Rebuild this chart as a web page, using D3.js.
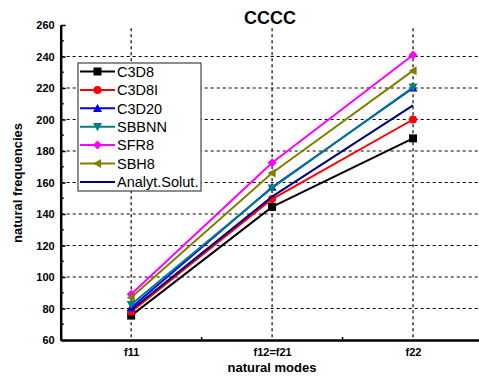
<!DOCTYPE html>
<html>
<head>
<meta charset="utf-8">
<script src="https://cdn.jsdelivr.net/npm/d3@7"></script>
<style>
  body { margin: 0; background: #fff; }
  text { font-family: "Liberation Sans", Arial, sans-serif; }
</style>
</head>
<body>
<div id="viz"></div>
<script>
// data
const modes = ['f11', 'f12=f21', 'f22'];
const seriesNames = ['C3D8', 'C3D8I', 'C3D20', 'SBBNN', 'SFR8', 'SBH8', 'Analyt.Solut.'];
const c3d8 = [75.5, 144.5, 188];
const c3d8i = [78, 149.5, 200];
const c3d20 = [80.5, 157, 220];
const sbbnn = [82.5, 156.5, 220.5];
const sfr8 = [89, 172.5, 241];
const sbh8 = [87, 166, 231];
const analyt = [79, 151, 209];
const yTicks = [60, 80, 100, 120, 140, 160, 180, 200, 220, 240, 260];

function buildChart(containerId) {
    const width = 479;
    const height = 378;

    const margin = { top: 25, bottom: 38, left: 60.7, right: -4.5 };
    const innerWidth = width - margin.left - margin.right;
    const innerHeight = height - margin.top - margin.bottom;

    const svg = d3.select(containerId)
        .append('svg')
        .attr('width', width)
        .attr('height', height);

    const g = svg.append('g')
        .attr('transform', `translate(${margin.left},${margin.top})`);

    const x = d3.scalePoint()
        .domain(modes)
        .range([0, innerWidth])
        .padding(0.5);

    const y = d3.scaleLinear()
        .domain([60, 260])
        .range([innerHeight, 0]);

    // grid
    g.selectAll('.hgrid')
        .data(yTicks.filter(v => v > 60 && v < 260))
        .enter().append('line')
        .attr('x1', 0).attr('x2', innerWidth)
        .attr('y1', d => y(d)).attr('y2', d => y(d))
        .attr('stroke', '#000').attr('stroke-width', 1.2)
        .attr('stroke-dasharray', '3,3');

    g.selectAll('.vgrid')
        .data(modes)
        .enter().append('line')
        .attr('x1', d => x(d)).attr('x2', d => x(d))
        .attr('y1', y(258)).attr('y2', innerHeight)
        .attr('stroke', '#000').attr('stroke-width', 1.2)
        .attr('stroke-dasharray', '3,3');

    // y axis
    const yAxis = d3.axisLeft(y)
        .tickValues(yTicks)
        .tickSizeInner(-5)
        .tickSizeOuter(0)
        .tickPadding(6);
    const ya = g.append('g').attr('class', 'y-axis').call(yAxis);
    ya.select('.domain').attr('stroke-width', 2.5);
    ya.selectAll('.tick line').attr('stroke-width', 1.5);
    ya.selectAll('text')
        .attr('font-size', 11).attr('font-weight', 'bold')
        .attr('font-family', '"Liberation Sans", Arial, sans-serif')
        .attr('dx', 0);

    // minor y ticks
    g.selectAll('.yminor')
        .data(d3.range(70, 260, 20))
        .enter().append('line')
        .attr('x1', 0).attr('x2', 3)
        .attr('y1', d => y(d)).attr('y2', d => y(d))
        .attr('stroke', '#000').attr('stroke-width', 1.5);

    // x axis
    const xAxis = d3.axisBottom(x).tickSize(0).tickPadding(8);
    const xa = g.append('g')
        .attr('class', 'x-axis')
        .attr('transform', `translate(0,${innerHeight})`)
        .call(xAxis);
    xa.select('.domain').attr('stroke-width', 2.5);
    xa.selectAll('text')
        .attr('font-size', 11).attr('font-weight', 'bold')
        .attr('font-family', '"Liberation Sans", Arial, sans-serif');

    const step = x.step();
    g.selectAll('.xminor')
        .data(modes.slice(0, -1))
        .enter().append('line')
        .attr('x1', d => x(d) + step / 2).attr('x2', d => x(d) + step / 2)
        .attr('y1', innerHeight - 3).attr('y2', innerHeight)
        .attr('stroke', '#000').attr('stroke-width', 1.5);

    // series
    const series = [
        { name: seriesNames[0], values: c3d8, color: '#000000', symbol: 'square' },
        { name: seriesNames[1], values: c3d8i, color: '#ff0000', symbol: 'circle' },
        { name: seriesNames[2], values: c3d20, color: '#0000ff', symbol: 'up' },
        { name: seriesNames[3], values: sbbnn, color: '#008080', symbol: 'down' },
        { name: seriesNames[4], values: sfr8, color: '#ff00ff', symbol: 'diamond' },
        { name: seriesNames[5], values: sbh8, color: '#808000', symbol: 'left' },
        { name: seriesNames[6], values: analyt, color: '#000080', symbol: null }
    ];

    const line = d3.line()
        .x((d, i) => x(modes[i]))
        .y(d => y(d));

    function markerPath(sym) {
        const s = 4.5;
        switch (sym) {
            case 'square': return `M${-4},${-4}h8v8h-8z`;
            case 'circle': return d3.symbol(d3.symbolCircle, 50)();
            case 'up': return `M0,${-s}L${s},${s * 0.8}L${-s},${s * 0.8}Z`;
            case 'down': return `M0,${s}L${s},${-s * 0.8}L${-s},${-s * 0.8}Z`;
            case 'diamond': return `M0,${-s}L${s},0L0,${s}L${-s},0Z`;
            case 'left': return `M${-s},0L${s * 0.8},${-s}L${s * 0.8},${s}Z`;
        }
        return null;
    }

    const groups = g.selectAll('.series')
        .data(series)
        .enter().append('g')
        .attr('class', 'series');

    groups.append('path')
        .attr('d', d => line(d.values))
        .attr('fill', 'none')
        .attr('stroke', d => d.color)
        .attr('stroke-width', 2);

    groups.filter(d => d.symbol)
        .selectAll('.pt')
        .data(d => d.values.map((v, i) => ({ v, i, s: d })))
        .enter().append('path')
        .attr('transform', d => `translate(${x(modes[d.i])},${y(d.v)})`)
        .attr('d', d => markerPath(d.s.symbol))
        .attr('fill', d => d.s.color);

    // legend
    const lg = svg.append('g').attr('transform', 'translate(78,63)');
    lg.append('rect')
        .attr('width', 123).attr('height', 128)
        .attr('fill', '#fff')
        .attr('stroke', '#444').attr('stroke-width', 1.2);
    const items = lg.selectAll('.item')
        .data(series)
        .enter().append('g')
        .attr('transform', (d, i) => `translate(0,${8.5 + i * 18.4})`);
    items.append('line')
        .attr('x1', 2).attr('x2', 37)
        .attr('stroke', d => d.color).attr('stroke-width', 2);
    items.filter(d => d.symbol).append('path')
        .attr('transform', 'translate(19.5,0)')
        .attr('d', d => markerPath(d.symbol))
        .attr('fill', d => d.color);
    items.append('text')
        .attr('x', 39).attr('dy', '0.36em')
        .attr('font-size', 14.5)
        .text(d => d.name);

    // titles
    svg.append('text')
        .attr('x', 270).attr('y', 24)
        .attr('text-anchor', 'middle')
        .attr('font-size', 18).attr('font-weight', 'bold')
        .text('CCCC');

    svg.append('text')
        .attr('x', 272).attr('y', 372)
        .attr('text-anchor', 'middle')
        .attr('font-size', 13).attr('font-weight', 'bold')
        .text('natural modes');

    svg.append('text')
        .attr('transform', 'translate(22,183) rotate(-90)')
        .attr('text-anchor', 'middle')
        .attr('font-size', 13).attr('font-weight', 'bold')
        .text('natural frequencies');
}

buildChart('#viz');
</script>
</body>
</html>
